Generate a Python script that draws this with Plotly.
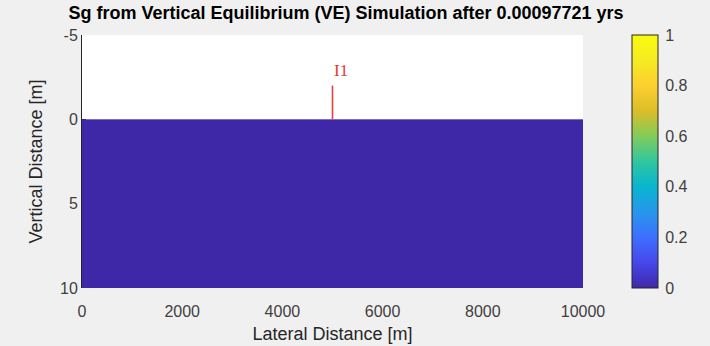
import plotly.graph_objects as go

# Grid: lateral cell edges [m], vertical cell edges [m] (depth positive downward)
lateral_edges = [0, 1000, 2000, 3000, 4000, 5000, 6000, 7000, 8000, 9000, 10000]
depth_edges = [0, 10]
# Gas saturation per cell (one layer, ten columns)
sg_values = [[0, 0, 0, 0, 0, 0, 0, 0, 0, 0]]

# Injector well
well_name = "I1"
well_x = 5000
well_top = -2
well_bottom = 0

x_ticks = [0, 2000, 4000, 6000, 8000, 10000]
x_tick_text = ["0", "2000", "4000", "6000", "8000", "10000"]
y_ticks = [-5, 0, 5, 10]
y_tick_text = ["-5", "0", "5", "10"]
cb_ticks = [0, 0.2, 0.4, 0.6, 0.8, 1]
cb_tick_text = ["0", "0.2", "0.4", "0.6", "0.8", "1"]

title_text = "Sg from Vertical Equilibrium (VE) Simulation after 0.00097721 yrs"

FONT = "Liberation Sans, Arial"

# MATLAB parula colormap (sampled)
parula = [
    [0.00, "rgb(62,40,168)"],
    [0.10, "rgb(71,71,235)"],
    [0.20, "rgb(62,111,255)"],
    [0.30, "rgb(39,150,235)"],
    [0.40, "rgb(8,181,208)"],
    [0.50, "rgb(49,198,159)"],
    [0.60, "rgb(129,204,89)"],
    [0.70, "rgb(220,189,41)"],
    [0.80, "rgb(252,207,48)"],
    [0.90, "rgb(245,235,34)"],
    [1.00, "rgb(249,251,14)"],
]

fig = go.Figure()

fig.add_trace(go.Heatmap(
    x=lateral_edges,
    y=depth_edges,
    z=sg_values,
    zmin=0, zmax=1,
    colorscale=parula,
    hoverinfo="skip",
    colorbar=dict(
        x=(632 - 82) / 501, xanchor="left", xref="paper",
        y=0.5, yanchor="middle",
        len=1.0, lenmode="fraction",
        thickness=26, thicknessmode="pixels",
        xpad=0, ypad=0,
        outlinecolor="#262626", outlinewidth=1,
        tickvals=cb_ticks, ticktext=cb_tick_text,
        ticks="outside", ticklen=4, tickcolor="rgba(0,0,0,0)",
        tickfont=dict(family=FONT, size=16, color="#404040"),
    ),
))

fig.add_trace(go.Scatter(
    x=[well_x, well_x], y=[well_bottom, well_top],
    mode="lines", line=dict(color="#e8403a", width=1.6),
    hoverinfo="skip", showlegend=False,
))

fig.add_annotation(
    x=well_x, y=-2.9, xref="x", yref="y",
    text=well_name, showarrow=False,
    xanchor="left", yanchor="middle", xshift=-1,
    font=dict(family="Liberation Serif, Times New Roman", size=17, color="#e03a32"),
)

fig.update_layout(
    width=710, height=346,
    margin=dict(l=82, r=127, t=35, b=58, autoexpand=False),
    paper_bgcolor="#f0f0f0",
    plot_bgcolor="white",
    showlegend=False,
    title=dict(
        text="<b>" + title_text + "</b>",
        xref="container", x=346 / 710, xanchor="center",
        yref="container", y=1 - 13 / 346, yanchor="middle",
        font=dict(family=FONT, size=18, color="black"),
    ),
    xaxis=dict(
        range=[0, 10000], tickvals=x_ticks, ticktext=x_tick_text,
        showgrid=False, zeroline=False, showline=False,
        ticks="", layer="below traces", ticklabelstandoff=12,
        automargin=False,
        tickfont=dict(family=FONT, size=16, color="#404040"),
        title=dict(text="Lateral Distance [m]", standoff=8,
                   font=dict(family=FONT, size=18, color="#262626")),
    ),
    yaxis=dict(
        range=[10, -5], tickvals=y_ticks, ticktext=y_tick_text,
        showgrid=False, zeroline=False,
        showline=True, linecolor="#262626", linewidth=1,
        ticks="inside", ticklen=4, tickcolor="#262626",
        layer="below traces", automargin=False,
        tickfont=dict(family=FONT, size=16, color="#404040"),
        title=dict(text="Vertical Distance [m]", standoff=12,
                   font=dict(family=FONT, size=18, color="#262626")),
    ),
)

fig.write_html("out.html")
